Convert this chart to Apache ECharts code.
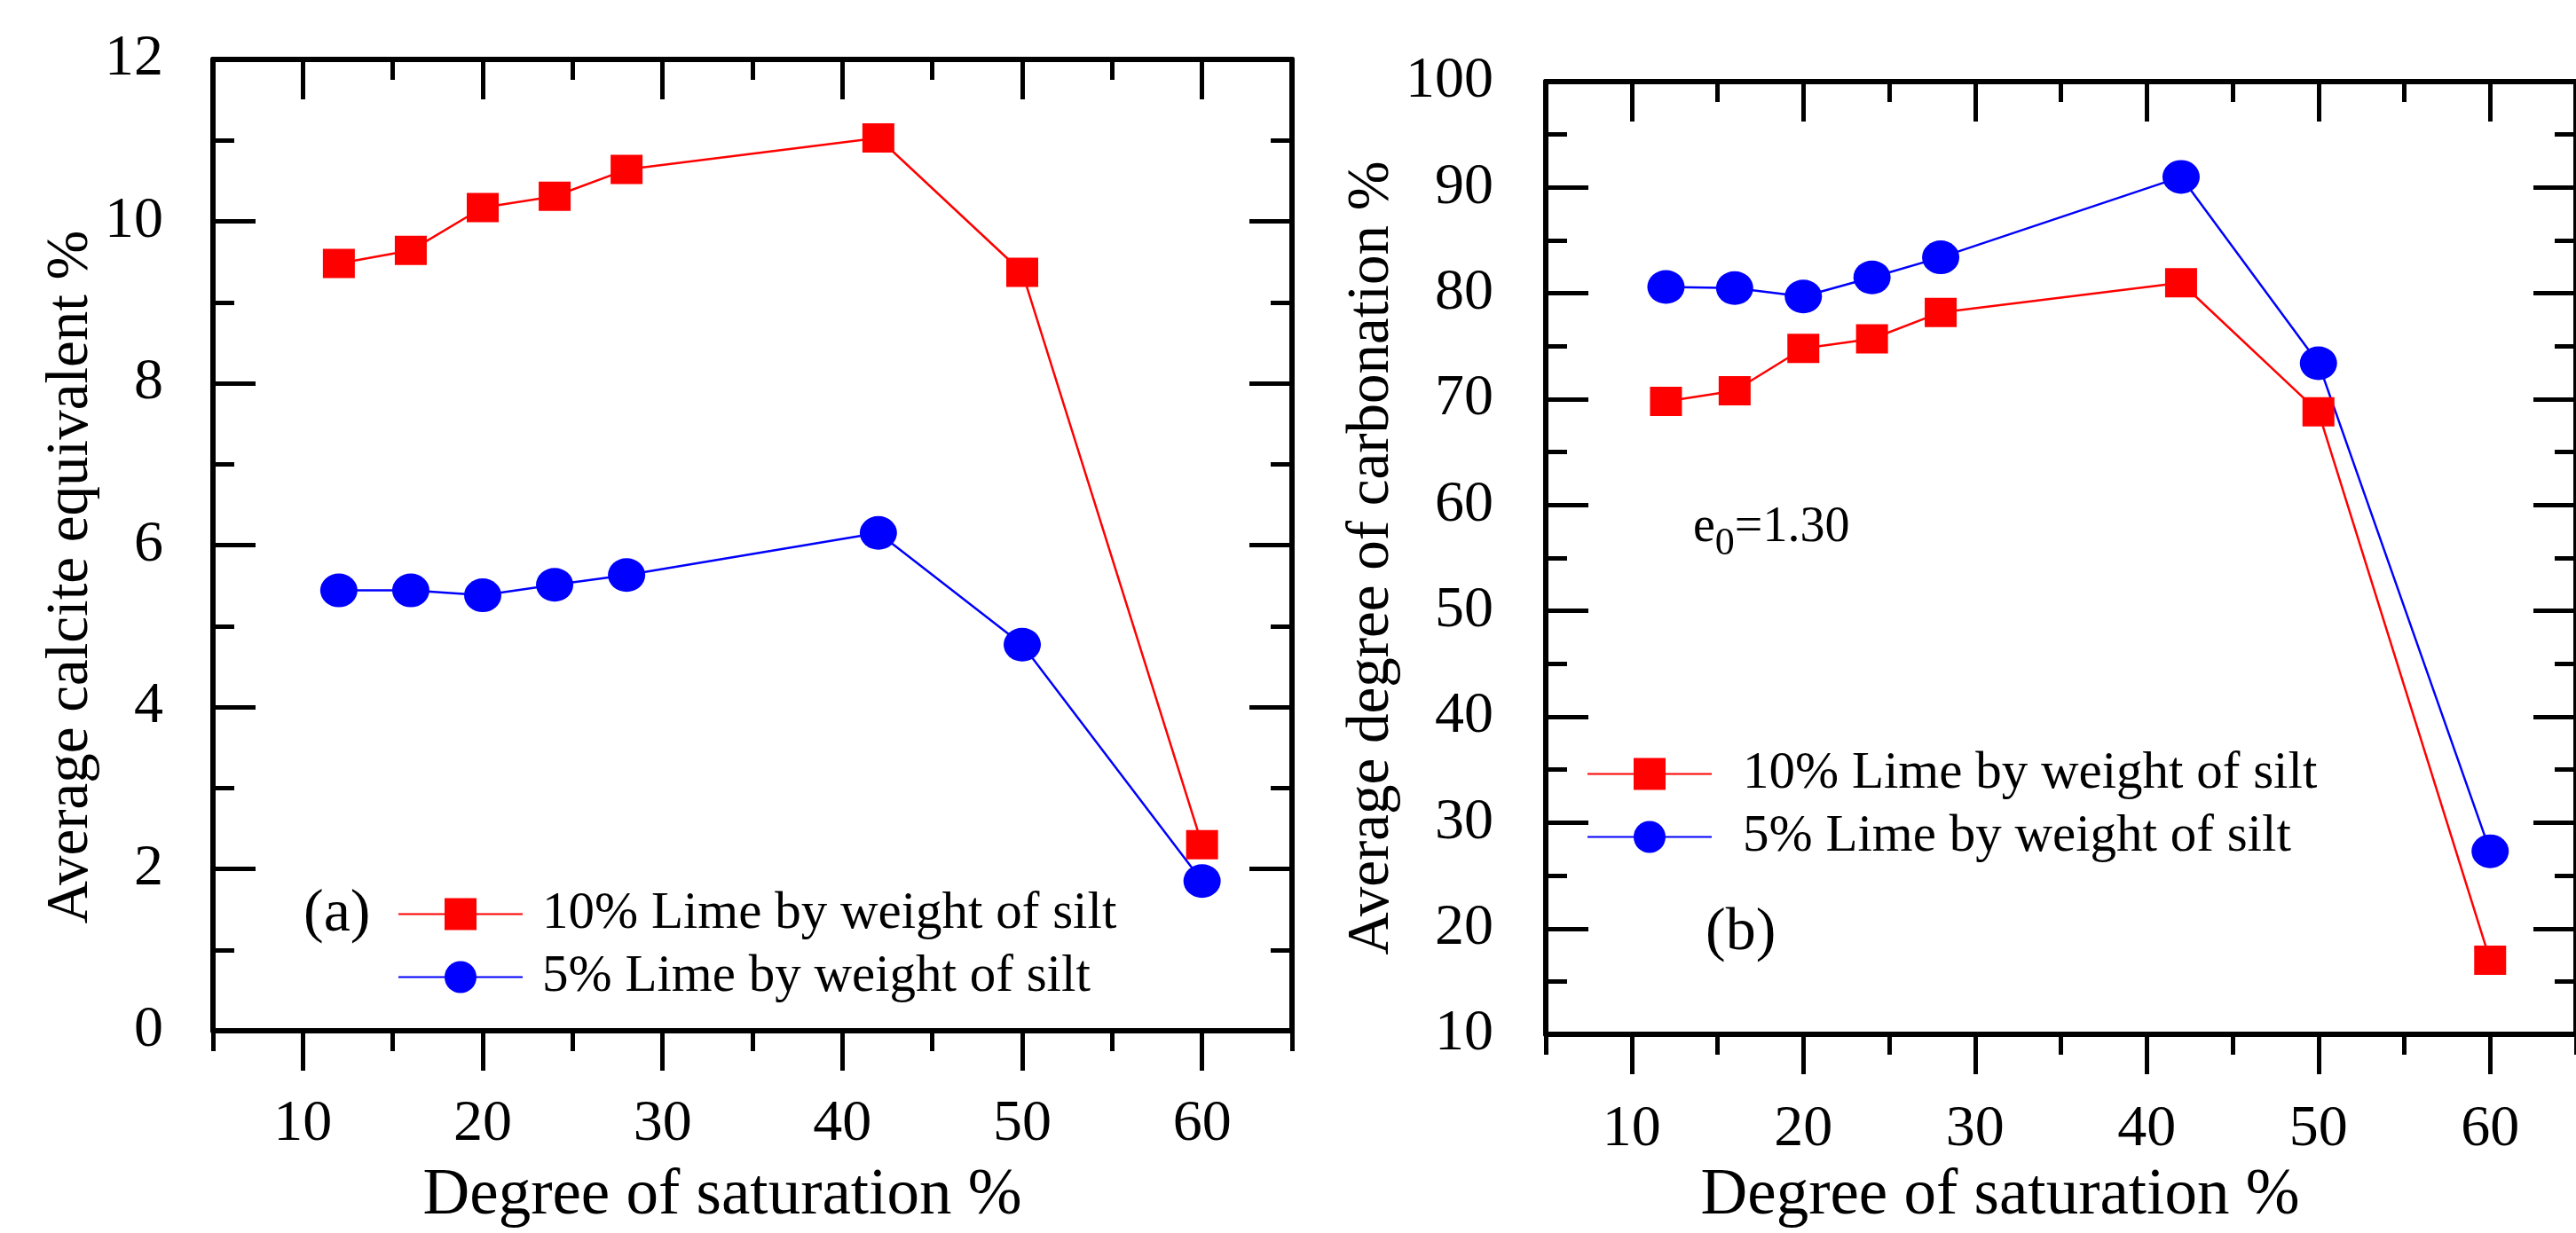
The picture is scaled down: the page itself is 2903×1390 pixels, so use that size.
<!DOCTYPE html>
<html>
<head>
<meta charset="utf-8">
<script src="https://cdn.jsdelivr.net/npm/echarts@6/dist/echarts.min.js"></script>
<style>
html,body{margin:0;padding:0;background:#fff;}
#chart{width:2903px;height:1390px;}
</style>
</head>
<body>
<div id="chart"></div>
<script>
// ---- data ----
var saturation = [12, 16, 20, 24, 28, 42, 50, 60];
var calcite10 = [9.48, 9.64, 10.17, 10.31, 10.64, 11.03, 9.37, 2.30];
var calcite5 = [5.44, 5.44, 5.38, 5.51, 5.63, 6.15, 4.77, 1.85];
var carbonation10 = [69.8, 70.8, 74.8, 75.7, 78.2, 81.0, 68.8, 17.0];
var carbonation5 = [80.6, 80.5, 79.7, 81.5, 83.4, 91.0, 73.4, 27.3];
var xMajorTicks = [10, 20, 30, 40, 50, 60];
var xMinorTicks = [5, 15, 25, 35, 45, 55, 65];
var seriesNames = ['10% Lime by weight of silt', '5% Lime by weight of silt'];
var xTitle = 'Degree of saturation %';
var yTitleA = 'Average calcite equivalent %';
var yTitleB = 'Average degree of carbonation %';

var FONT = 'Liberation Serif';
var RED = '#ff0000', BLUE = '#0000ff';
var ELLIPSE = 'path://M0,10A10,10,0,1,1,20,10A10,10,0,1,1,0,10Z';

function pairs(xs, ys) { return xs.map(function (x, i) { return [x, ys[i]]; }); }

var axisLine = { show: true, lineStyle: { color: '#000', width: 6 } };

function xAxes(gridIndex, labelMargin, nameGap, namePad) {
  return [
    { // bottom major
      gridIndex: gridIndex, type: 'value', position: 'bottom', min: 5, max: 65,
      axisLine: axisLine,
      axisTick: { show: true, inside: false, length: 45, customValues: xMajorTicks, lineStyle: { color: '#000', width: 5 } },
      axisLabel: { show: true, customValues: xMajorTicks, margin: labelMargin, fontFamily: FONT, fontSize: 66, color: '#000' },
      splitLine: { show: false },
      name: xTitle, nameLocation: 'middle', nameGap: nameGap,
      nameTextStyle: { fontFamily: FONT, fontSize: 73, color: '#000', padding: [0, namePad, 0, 0] }
    },
    { // bottom minor
      gridIndex: gridIndex, type: 'value', position: 'bottom', min: 5, max: 65,
      axisLine: { show: false },
      axisTick: { show: true, inside: false, length: 23, customValues: xMinorTicks, lineStyle: { color: '#000', width: 5 } },
      axisLabel: { show: false }, splitLine: { show: false }
    },
    { // top major
      gridIndex: gridIndex, type: 'value', position: 'top', min: 5, max: 65,
      axisLine: axisLine,
      axisTick: { show: true, inside: true, length: 45, customValues: xMajorTicks, lineStyle: { color: '#000', width: 5 } },
      axisLabel: { show: false }, splitLine: { show: false }
    },
    { // top minor
      gridIndex: gridIndex, type: 'value', position: 'top', min: 5, max: 65,
      axisLine: { show: false },
      axisTick: { show: true, inside: true, length: 23, customValues: xMinorTicks, lineStyle: { color: '#000', width: 5 } },
      axisLabel: { show: false }, splitLine: { show: false }
    }
  ];
}

function yAxes(gridIndex, min, max, interval, labelMargin, title, nameGap, namePad) {
  var base = {
    gridIndex: gridIndex, type: 'value', min: min, max: max, interval: interval,
    axisLine: axisLine,
    axisTick: { show: true, inside: true, length: 48, lineStyle: { color: '#000', width: 5 } },
    minorTick: { show: true, splitNumber: 2, length: 24, lineStyle: { color: '#000', width: 5 } },
    splitLine: { show: false }, minorSplitLine: { show: false }
  };
  var left = Object.assign({}, base, {
    position: 'left',
    axisLabel: { show: true, margin: labelMargin, fontFamily: FONT, fontSize: 66, color: '#000' },
    name: title, nameLocation: 'middle', nameGap: nameGap,
    nameTextStyle: { fontFamily: FONT, fontSize: 67, color: '#000', padding: [0, namePad, 0, 0] }
  });
  var right = Object.assign({}, base, { position: 'right', axisLabel: { show: false } });
  return [left, right];
}

var option = {
  animation: false,
  backgroundColor: '#fff',
  textStyle: { fontFamily: FONT },
  grid: [
    { left: 240, top: 67, width: 1216, height: 1104 },
    { left: 1742, top: 92, width: 1213, height: 1103 }
  ],
  xAxis: xAxes(0, 73, 150, 68).concat(xAxes(1, 75, 134, 137)),
  yAxis: yAxes(0, 0, 12, 2, 56, yTitleA, 123, 72).concat(yAxes(1, 10, 100, 10, 59, yTitleB, 160, 0)),
  legend: [
    {
      data: seriesNames, orient: 'vertical', left: 443, top: 996,
      itemWidth: 140, itemHeight: 45, itemGap: 12,
      textStyle: { fontFamily: FONT, fontSize: 59, color: '#000', padding: [0, 0, 0, 17] }
    },
    {
      data: seriesNames, orient: 'vertical', left: 1783, top: 838,
      itemWidth: 140, itemHeight: 45, itemGap: 12,
      textStyle: { fontFamily: FONT, fontSize: 59, color: '#000', padding: [0, 0, 0, 30] }
    }
  ],
  graphic: [
    { type: 'text', left: 342, top: 1031 - 34, style: { text: '(a)', fontFamily: FONT, fontSize: 68, fill: '#000' } },
    { type: 'text', left: 1922, top: 1052 - 34, style: { text: '(b)', fontFamily: FONT, fontSize: 68, fill: '#000' } },
    {
      type: 'text', x: 1908, y: 595,
      style: {
        text: '{m|e}{s|0}{m|=1.30}', verticalAlign: 'middle', fill: '#000',
        rich: {
          m: { fontFamily: FONT, fontSize: 56, lineHeight: 80, verticalAlign: 'middle', fill: '#000' },
          s: { fontFamily: FONT, fontSize: 44, lineHeight: 44, verticalAlign: 'bottom', fill: '#000' }
        }
      }
    }
  ],
  series: [
    {
      name: seriesNames[0], type: 'line', xAxisIndex: 0, yAxisIndex: 0,
      data: pairs(saturation, calcite10),
      symbol: 'rect', symbolSize: [36, 33],
      lineStyle: { color: RED, width: 2.5 }, itemStyle: { color: RED }
    },
    {
      name: seriesNames[1], type: 'line', xAxisIndex: 0, yAxisIndex: 0,
      data: pairs(saturation, calcite5),
      symbol: ELLIPSE, symbolSize: [42, 38],
      lineStyle: { color: BLUE, width: 2.5 }, itemStyle: { color: BLUE }
    },
    {
      name: seriesNames[0], type: 'line', xAxisIndex: 4, yAxisIndex: 2,
      data: pairs(saturation, carbonation10),
      symbol: 'rect', symbolSize: [36, 33],
      lineStyle: { color: RED, width: 2.5 }, itemStyle: { color: RED }
    },
    {
      name: seriesNames[1], type: 'line', xAxisIndex: 4, yAxisIndex: 2,
      data: pairs(saturation, carbonation5),
      symbol: ELLIPSE, symbolSize: [42, 38],
      lineStyle: { color: BLUE, width: 2.5 }, itemStyle: { color: BLUE }
    }
  ]
};

var chart = echarts.init(document.getElementById('chart'));
chart.setOption(option);
</script>
</body>
</html>
